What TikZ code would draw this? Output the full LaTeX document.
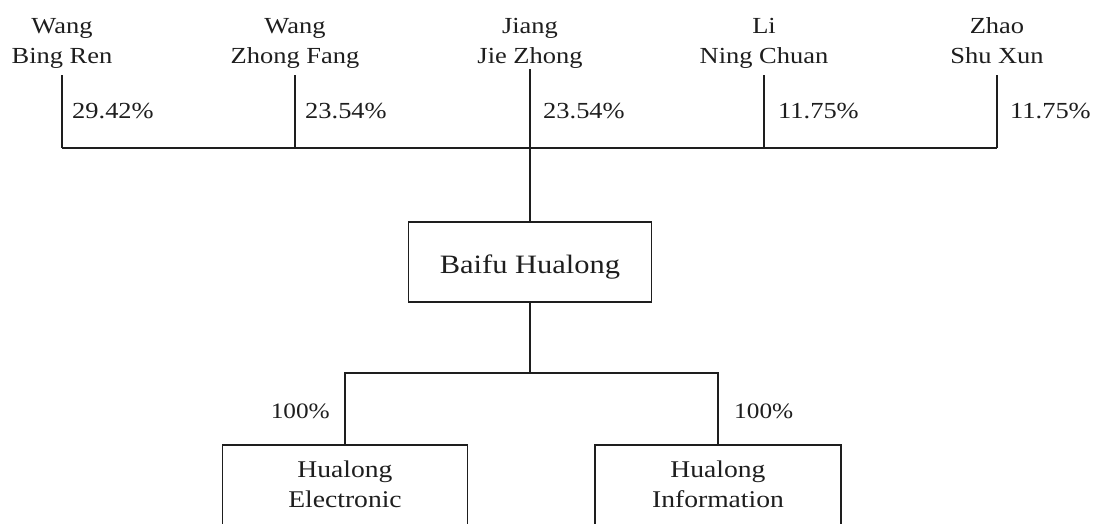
\documentclass[tikz,border=0pt]{standalone}
\usepackage{fontspec}
\setmainfont{Liberation Serif}[FakeStretch=1.15]
\definecolor{ink}{HTML}{1E1E1E}
\newcommand\namestrut{\rule[-6pt]{0pt}{22pt}}
\newcommand\boxstrut{\rule[-6pt]{0pt}{23pt}}
\begin{document}
\begin{tikzpicture}[x=1pt,y=-1pt,
  person/.style={align=center, inner sep=0pt, anchor=north, text=ink,
    font=\fontsize{23}{30}\selectfont},
  pct/.style={inner sep=0pt, text=ink, font=\fontsize{23}{28}\selectfont},
  topbox/.style={draw=ink, line width=1.5pt, minimum width=243pt, minimum height=80pt,
    inner sep=0pt, text height=22pt, text depth=0pt, text=ink,
    font=\fontsize{26.5}{32}\selectfont},
  subbox/.style={draw=ink, line width=1.5pt, minimum width=245pt, minimum height=85pt,
    inner sep=0pt, anchor=north, align=center, text=ink,
    font=\fontsize{24}{30}\selectfont},
  link/.style={draw=ink, line width=1.5pt}]
\useasboundingbox (0,0) rectangle (1093,523);
\fill[white] (0,0) rectangle (1093,523);

% shareholders
\node[person] (p1) at (62,17)  {\namestrut Wang\\\namestrut Bing Ren};
\node[person] (p2) at (295,17) {\namestrut Wang\\\namestrut Zhong Fang};
\node[person] (p3) at (530,17) {\namestrut Jiang\\\namestrut Jie Zhong};
\node[person] (p4) at (764,17) {\namestrut Li\\\namestrut Ning Chuan};
\node[person] (p5) at (997,17) {\namestrut Zhao\\\namestrut Shu Xun};

\coordinate (j1) at (62,148);
\coordinate (j2) at (295,148);
\coordinate (j4) at (764,148);
\coordinate (j5) at (997,148);

\node[pct, anchor=base west] (s1) at (72,118)   {29.42\%};
\node[pct, anchor=base west] (s2) at (305,118)  {23.54\%};
\node[pct, anchor=base west] (s3) at (543,118)  {23.54\%};
\node[pct, anchor=base west] (s4) at (778,118)  {11.75\%};
\node[pct, anchor=base west] (s5) at (1010,118) {11.75\%};

% parent company
\node[topbox] (bh) at (530,262) {Baifu Hualong};

\draw[link, shorten <=6pt] (p1.south) -- (j1);
\draw[link, shorten <=6pt] (p2.south) -- (j2);
\draw[link, shorten <=6pt] (p4.south) -- (j4);
\draw[link, shorten <=6pt] (p5.south) -- (j5);
\draw[link] (j1) -- (j5);
\draw[link] (p3.south) -- (bh.north);

% subsidiaries
\node[subbox] (he) at (345,444) {\boxstrut Hualong\\\boxstrut Electronic};
\node[subbox, minimum width=246pt] (hi) at (718,444) {\boxstrut Hualong\\\boxstrut Information};

\coordinate (m) at (530,373);
\draw[link] (bh.south) -- (m);
\draw[link] (he.north) |- (m) -| (hi.north);

\node[pct, anchor=base east, font=\fontsize{22}{28}\selectfont] (e1) at (330,418) {100\%};
\node[pct, anchor=base west, font=\fontsize{22}{28}\selectfont] (e2) at (734,418) {100\%};
\end{tikzpicture}
\end{document}
